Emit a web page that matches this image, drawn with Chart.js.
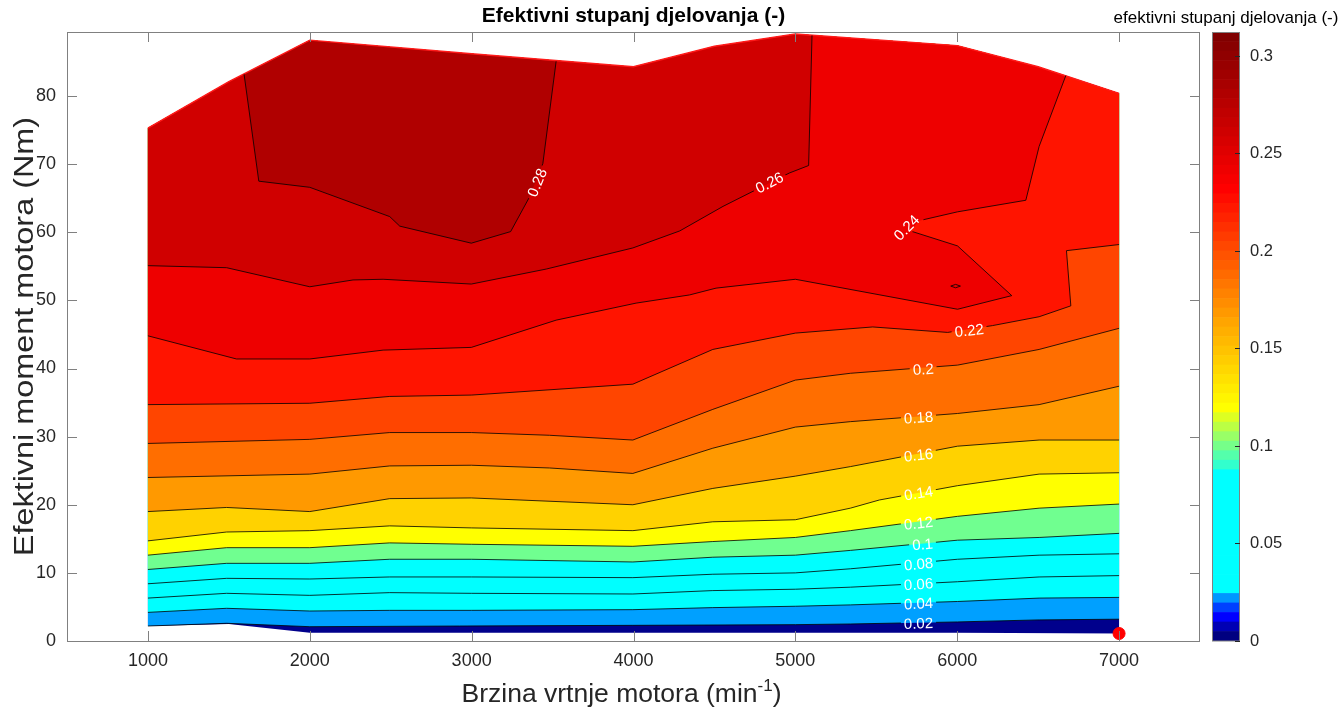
<!DOCTYPE html>
<html>
<head>
<meta charset="utf-8">
<script src="https://cdn.jsdelivr.net/npm/chart.js@4/dist/chart.umd.min.js"></script>
<style>
  html, body { margin: 0; padding: 0; background: #fff; }
  #wrap { position: relative; width: 1343px; height: 710px; }
  #main { position: absolute; left: 0; top: 0; }
  #cbar { position: absolute; left: 1100px; top: 0; }
</style>
</head>
<body>
<div id="wrap">
  <canvas id="main" width="1343" height="710"></canvas>
  <canvas id="cbar" width="243" height="710"></canvas>
</div>
<script>
// ---- data (rpm, Nm) ----
const xTicks = [1000, 2000, 3000, 4000, 5000, 6000, 7000];
const yTicks = [0, 10, 20, 30, 40, 50, 60, 70, 80];
const cbTicks = [0, 0.05, 0.1, 0.15, 0.2, 0.25, 0.3];
const cbTickLabels = ['0', '0.05', '0.1', '0.15', '0.2', '0.25', '0.3'];

const topEdge = [[1000, 75.3], [1500, 82.1], [2000, 88.2], [3000, 86.2], [4000, 84.3], [4500, 87.3], [5000, 89.1], [6000, 87.4], [6500, 84.3], [7000, 80.4]];
const bottomEdge = [[1000, 2.2], [1500, 2.5], [2000, 1.2], [3000, 1.2], [4000, 1.2], [5000, 1.2], [6000, 1.2], [7000, 1.1]];
const markerPoint = [7000, 1.1];

const levels = [0, 0.02, 0.04, 0.06, 0.08, 0.1, 0.12, 0.14, 0.16, 0.18, 0.2, 0.22, 0.24, 0.26, 0.28];

const c02 = [[1000, 2.2], [1486, 2.6], [2000, 2.1], [2926, 2.2], [3996, 2.3], [5000, 2.4], [5340, 2.5], [6002, 2.8], [6506, 3.1], [7000, 3.2]];
const c04 = [[1000, 4.2], [1486, 4.8], [2000, 4.4], [2494, 4.5], [2998, 4.5], [3996, 4.6], [4490, 4.9], [5000, 5.1], [5340, 5.3], [6002, 5.8], [6506, 6.3], [7000, 6.4]];
const c06 = [[1000, 6.3], [1486, 7.0], [2000, 6.7], [2494, 7.1], [2998, 7.0], [3996, 6.9], [4490, 7.4], [5000, 7.6], [5340, 7.9], [6002, 8.7], [6506, 9.4], [7000, 9.6]];
const c08 = [[1000, 8.4], [1486, 9.2], [2000, 9.1], [2494, 9.4], [2998, 9.4], [3996, 9.3], [4490, 9.8], [5000, 10.0], [5340, 10.6], [6002, 12.0], [6506, 12.6], [7000, 12.8]];
const c10 = [[1000, 10.5], [1486, 11.4], [2000, 11.4], [2494, 12.0], [2998, 12.0], [3996, 11.6], [4490, 12.3], [5000, 12.6], [5340, 13.3], [6002, 14.8], [6506, 15.2], [7000, 15.8]];
const c12 = [[1000, 12.6], [1486, 13.7], [2000, 13.7], [2494, 14.4], [2998, 14.2], [3996, 13.9], [4490, 14.6], [5000, 15.2], [5340, 16.2], [6002, 18.3], [6506, 19.5], [7000, 20.1]];
const c14 = [[1000, 14.7], [1486, 16.0], [2000, 16.2], [2494, 16.9], [2998, 16.6], [3996, 16.2], [4490, 17.5], [5000, 17.8], [5340, 19.5], [5519, 20.7], [6002, 22.8], [6506, 24.5], [7000, 24.7]];
const c16 = [[1000, 19.0], [1486, 19.6], [2000, 19.0], [2494, 20.9], [2998, 21.0], [3996, 20.0], [4490, 22.4], [5000, 24.2], [5340, 25.6], [6002, 28.6], [6506, 29.5], [7000, 29.5]];
const c18 = [[1000, 24.0], [2000, 24.5], [2494, 25.7], [2998, 25.8], [3481, 25.4], [3996, 24.6], [4490, 28.3], [5000, 31.4], [5340, 32.2], [6002, 33.4], [6506, 34.7], [7000, 37.4]];
const c20 = [[1000, 29.0], [2000, 29.6], [2494, 30.6], [2998, 30.6], [3481, 30.2], [3996, 29.5], [4490, 34.0], [5000, 38.3], [5340, 39.3], [6002, 40.5], [6506, 42.8], [7000, 45.9]];
const c22 = [[1000, 34.7], [2000, 34.9], [2494, 35.9], [2998, 36.1], [3996, 37.7], [4490, 42.8], [5000, 45.2], [5478, 46.1], [5941, 45.3], [6218, 46.3], [6506, 47.6], [6702, 49.2], [6675, 57.3], [7000, 58.2]];
const c24 = [[1000, 44.8], [1547, 41.4], [2000, 41.4], [2453, 42.7], [2998, 43.1], [3522, 47.1], [4016, 49.6], [4346, 50.8], [4510, 51.8], [5000, 53.1], [6002, 48.7], [6337, 50.7], [6002, 58.0], [5710, 60.2], [5765, 61.7], [6002, 63.0], [6424, 64.7], [6506, 72.6], [6671, 83.0]];
const c24island = [[5960, 52.1], [5990, 52.35], [6020, 52.1], [5990, 51.85], [5960, 52.1]];
const c26 = [[1000, 55.1], [1486, 54.8], [2000, 52.0], [2267, 53.0], [2453, 53.1], [2998, 52.4], [3461, 54.6], [3996, 57.7], [4286, 60.2], [4553, 63.8], [4963, 68.7], [5082, 69.8], [5103, 88.9]];
const c28 = [[1594, 83.2], [1685, 67.5], [2000, 66.6], [2494, 62.3], [2556, 60.9], [2998, 58.4], [3241, 60.1], [3358, 65.2], [3440, 70.1], [3522, 85.1]];

const contourList = [c02, c04, c06, c08, c10, c12, c14, c16, c18, c20, c22, c24, c26, c28];

// where the contour labels sit (clabel)
const labelSpots = [
  { t: '0.02', x: 5761, y: 2.6, a: -2 },
  { t: '0.04', x: 5761, y: 5.5, a: -3 },
  { t: '0.06', x: 5761, y: 8.35, a: -4 },
  { t: '0.08', x: 5761, y: 11.3, a: -5 },
  { t: '0.1', x: 5786, y: 14.2, a: -5 },
  { t: '0.12', x: 5761, y: 17.3, a: -6 },
  { t: '0.14', x: 5761, y: 21.7, a: -9 },
  { t: '0.16', x: 5761, y: 27.3, a: -6 },
  { t: '0.18', x: 5761, y: 32.8, a: -4 },
  { t: '0.2', x: 5790, y: 39.9, a: -4 },
  { t: '0.22', x: 6074, y: 45.6, a: -6 },
  { t: '0.24', x: 5687, y: 60.7, a: -45 },
  { t: '0.26', x: 4840, y: 67.3, a: -27 },
  { t: '0.28', x: 3404, y: 67.3, a: -68 }
];

const bandColors = ['#00008c', '#00a0ff', '#00ffff', '#00ffff', '#00ffff', '#70ff90', '#ffff00', '#ffd200', '#ff9900', '#ff6e00', '#ff4500', '#ff1400', '#ee0000', '#d00000', '#b00000'];

// colorbar colormap (segment index -> rgb)
const cbarMax = 0.3123;
const cbarSteps = 64;
const cmapAnchors = [[0, [0, 0, 128]], [1, [0, 0, 180]], [2, [0, 0, 255]], [3, [0, 64, 255]], [4, [0, 150, 255]], [5, [0, 255, 255]], [17, [0, 255, 255]], [18, [50, 255, 205]], [24, [255, 255, 0]], [33, [255, 165, 0]], [47, [255, 0, 0]], [63, [128, 0, 0]]];

Chart.defaults.font.family = '"Liberation Sans", Arial, Helvetica, sans-serif';
const inkColor = '#262626';
const boxColor = '#808080';
const labelFont = '15px "Liberation Sans", Arial, sans-serif';

function toXY(p) { return { x: p[0], y: p[1] }; }

const datasets = [];

// filled bands: region >= level, drawn low to high
levels.forEach((lev, i) => {
    let poly;
    if (i === 0) {
        poly = bottomEdge.concat(topEdge.slice().reverse());
    } else {
        const c = contourList[i - 1];
        const x0 = c[0][0], x1 = c[c.length - 1][0];
        poly = c.concat(topEdge.filter(p => p[0] >= x0 && p[0] <= x1).reverse());
    }
    datasets.push({
        data: poly.map(toXY),
        fill: 'shape',
        backgroundColor: bandColors[i],
        borderColor: 'rgba(0,0,0,0)',
        borderWidth: 0,
        pointRadius: 0,
        order: 100 - i
    });
});

// contour lines
contourList.concat([c24island]).forEach(c => {
    datasets.push({
        data: c.map(toXY),
        fill: false,
        borderColor: '#000000',
        borderWidth: 0.8,
        pointRadius: 0,
        isContour: true,
        order: 1
    });
});

// bright edge along the top of the map
datasets.push({
    data: topEdge.map(toXY),
    fill: false,
    borderColor: '#ff1a1a',
    borderWidth: 1.4,
    pointRadius: 0,
    order: 2
});

// red marker
datasets.push({
    data: [toXY(markerPoint)],
    showLine: false,
    pointRadius: 6,
    pointBackgroundColor: '#ff0000',
    pointBorderColor: '#ff0000',
    order: 0
});

function labelHoles(chart, ctx) {
    const xs = chart.scales.x, ys = chart.scales.y;
    ctx.font = labelFont;
    labelSpots.forEach(s => {
        const px = xs.getPixelForValue(s.x);
        const py = ys.getPixelForValue(s.y);
        const w = ctx.measureText(s.t).width / 2 + 3;
        const h = 7;
        const ang = s.a * Math.PI / 180;
        const c = Math.cos(ang), sn = Math.sin(ang);
        const pts = [[-w, -h], [w, -h], [w, h], [-w, h]].map(([u, v]) => [px + u * c - v * sn, py + u * sn + v * c]);
        ctx.moveTo(pts[0][0], pts[0][1]);
        for (let k = 1; k < 4; k++) ctx.lineTo(pts[k][0], pts[k][1]);
        ctx.closePath();
    });
}

const contourPlugin = {
    id: 'contourLabels',
    beforeDatasetDraw(chart, args) {
        if (!chart.data.datasets[args.index].isContour) return;
        const ctx = chart.ctx;
        const a = chart.chartArea;
        ctx.save();
        ctx.beginPath();
        ctx.rect(a.left, a.top, a.width, a.height);
        labelHoles(chart, ctx);
        ctx.clip('evenodd');
    },
    afterDatasetDraw(chart, args) {
        if (!chart.data.datasets[args.index].isContour) return;
        chart.ctx.restore();
    },
    afterDatasetsDraw(chart) {
        const ctx = chart.ctx;
        const xs = chart.scales.x, ys = chart.scales.y;
        ctx.save();
        ctx.font = labelFont;
        ctx.fillStyle = '#ffffff';
        ctx.textAlign = 'center';
        ctx.textBaseline = 'middle';
        labelSpots.forEach(s => {
            ctx.save();
            ctx.translate(xs.getPixelForValue(s.x), ys.getPixelForValue(s.y));
            ctx.rotate(s.a * Math.PI / 180);
            ctx.fillText(s.t, 0, 1);
            ctx.restore();
        });
        ctx.restore();
    }
};

const boxPlugin = {
    id: 'matlabBox',
    afterDraw(chart) {
        const ctx = chart.ctx;
        const a = chart.chartArea;
        const xs = chart.scales.x, ys = chart.scales.y;
        ctx.save();
        ctx.strokeStyle = boxColor;
        ctx.lineWidth = 1;
        ctx.strokeRect(a.left + 0.5, a.top + 0.5, a.width - 1, a.height);
        ctx.beginPath();
        xTicks.forEach(v => {
            const px = Math.round(xs.getPixelForValue(v)) + 0.5;
            ctx.moveTo(px, a.bottom); ctx.lineTo(px, a.bottom - 10);
            ctx.moveTo(px, a.top); ctx.lineTo(px, a.top + 10);
        });
        yTicks.forEach(v => {
            const py = Math.round(ys.getPixelForValue(v)) + 0.5;
            ctx.moveTo(a.left, py); ctx.lineTo(a.left + 10, py);
            ctx.moveTo(a.right, py); ctx.lineTo(a.right - 10, py);
        });
        ctx.stroke();

        // title
        const cx = (a.left + a.right) / 2;
        ctx.fillStyle = '#000000';
        ctx.textAlign = 'center';
        ctx.textBaseline = 'alphabetic';
        ctx.font = 'bold 21px "Liberation Sans", Arial, sans-serif';
        ctx.fillText('Efektivni stupanj djelovanja (-)', cx, 22);

        // x label with superscript
        ctx.fillStyle = inkColor;
        const t1 = 'Brzina vrtnje motora (min', sup = '-1', t2 = ')';
        const big = '26.5px "Liberation Sans", Arial, sans-serif';
        const small = '17px "Liberation Sans", Arial, sans-serif';
        ctx.font = big;
        const w1 = ctx.measureText(t1).width, w2 = ctx.measureText(t2).width;
        ctx.font = small;
        const ws = ctx.measureText(sup).width;
        let x0 = cx - 12 - (w1 + ws + w2) / 2;
        ctx.textAlign = 'left';
        ctx.font = big;
        ctx.fillText(t1, x0, 702);
        ctx.font = small;
        ctx.fillText(sup, x0 + w1, 691);
        ctx.font = big;
        ctx.fillText(t2, x0 + w1 + ws, 702);

        // y label (stretched along its run like the exported figure)
        ctx.save();
        ctx.translate(33, (a.top + a.bottom) / 2);
        ctx.rotate(-Math.PI / 2);
        ctx.scale(1.2, 1);
        ctx.textAlign = 'center';
        ctx.font = '27px "Liberation Sans", Arial, sans-serif';
        ctx.fillText('Efektivni moment motora (Nm)', 0, 0);
        ctx.restore();
        ctx.restore();
    }
};

new Chart(document.getElementById('main'), {
    type: 'line',
    data: { datasets: datasets },
    options: {
        responsive: false,
        animation: false,
        events: [],
        layout: { padding: { left: 0, top: 32, right: 143, bottom: 0 } },
        plugins: { legend: { display: false }, tooltip: { enabled: false } },
        scales: {
            x: {
                type: 'linear',
                min: 500,
                max: 7500,
                afterBuildTicks: s => { s.ticks = xTicks.map(v => ({ value: v })); },
                afterFit: s => { s.height = 69; },
                grid: { display: false, drawTicks: false },
                border: { display: false },
                ticks: { color: inkColor, font: { size: 18 }, padding: 9, maxRotation: 0, callback: v => String(v) }
            },
            y: {
                type: 'linear',
                min: 0,
                max: 89.4,
                afterBuildTicks: s => { s.ticks = yTicks.map(v => ({ value: v })); },
                afterFit: s => { s.width = 67; },
                grid: { display: false, drawTicks: false },
                border: { display: false },
                ticks: { color: inkColor, font: { size: 18 }, padding: 11, callback: v => String(v) }
            }
        }
    },
    plugins: [contourPlugin, boxPlugin]
});

// ---- colorbar ----
function cmapColor(k) {
    for (let i = 0; i < cmapAnchors.length - 1; i++) {
        const [k0, c0] = cmapAnchors[i], [k1, c1] = cmapAnchors[i + 1];
        if (k >= k0 && k <= k1) {
            const f = k1 === k0 ? 0 : (k - k0) / (k1 - k0);
            const c = c0.map((v, j) => Math.round(v + (c1[j] - v) * f));
            return 'rgb(' + c.join(',') + ')';
        }
    }
    return 'rgb(128,0,0)';
}

const cbStep = cbarMax / cbarSteps;
const cbDatasets = [];
for (let k = 0; k < cbarSteps; k++) {
    cbDatasets.push({
        data: [[k * cbStep, (k + 1) * cbStep]],
        backgroundColor: cmapColor(k),
        borderWidth: 0,
        grouped: false,
        barPercentage: 1,
        categoryPercentage: 1
    });
}

const cbarPlugin = {
    id: 'cbarDecor',
    afterDraw(chart) {
        const ctx = chart.ctx;
        const a = chart.chartArea;
        const ys = chart.scales.y;
        ctx.save();
        ctx.strokeStyle = boxColor;
        ctx.lineWidth = 1;
        ctx.strokeRect(a.left + 0.5, a.top + 0.5, a.width - 1, a.height - 0.5);
        ctx.strokeStyle = inkColor;
        ctx.beginPath();
        cbTicks.forEach(v => {
            const py = Math.round(ys.getPixelForValue(v)) + 0.5;
            ctx.moveTo(a.right, py); ctx.lineTo(a.right - 5, py);
        });
        ctx.stroke();
        ctx.fillStyle = '#000000';
        ctx.textAlign = 'center';
        ctx.font = '17px "Liberation Sans", Arial, sans-serif';
        ctx.fillText('efektivni stupanj djelovanja (-)', (a.left + a.right) / 2, 23);
        ctx.restore();
    }
};

new Chart(document.getElementById('cbar'), {
    type: 'bar',
    data: { labels: [''], datasets: cbDatasets },
    options: {
        responsive: false,
        animation: false,
        events: [],
        layout: { padding: { left: 112, top: 32, right: 0, bottom: 69 } },
        plugins: { legend: { display: false }, tooltip: { enabled: false } },
        scales: {
            x: { display: false },
            y: {
                type: 'linear',
                position: 'right',
                min: 0,
                max: cbarMax,
                afterBuildTicks: s => { s.ticks = cbTicks.map(v => ({ value: v })); },
                afterFit: s => { s.width = 103; },
                grid: { display: false, drawTicks: false },
                border: { display: false },
                ticks: { color: inkColor, font: { size: 16.5 }, padding: 10, callback: (v, i) => cbTickLabels[i] }
            }
        }
    },
    plugins: [cbarPlugin]
});
</script>
</body>
</html>
